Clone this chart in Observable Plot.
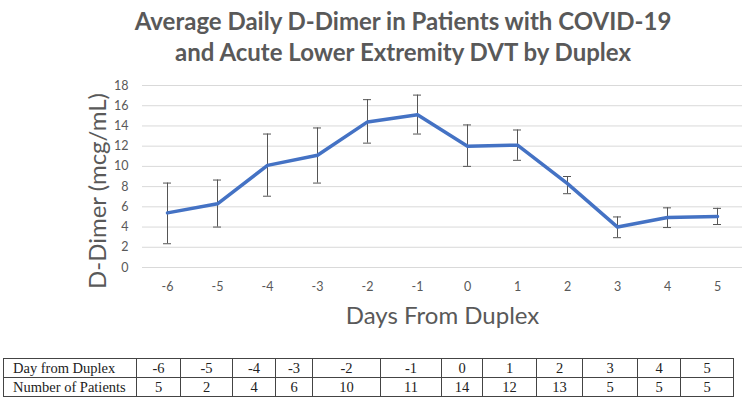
<!DOCTYPE html>
<html>
<head>
<meta charset="utf-8">
<script src="https://cdn.jsdelivr.net/npm/d3@7"></script>
<script src="https://cdn.jsdelivr.net/npm/@observablehq/plot@0.6"></script>
<style>
  html, body { margin: 0; padding: 0; background: #fff; }
  body { width: 746px; height: 401px; overflow: hidden; position: relative; }
  #title { width: 686px; margin-left: 60px; padding-top: 5px; height: 65px; text-align: center;
    font-family: Lato, sans-serif; font-weight: 700; font-size: 24px; line-height: 31px; color: #595959; }
  #chart svg { display: block; }
  #ylabel { position: absolute; left: 97px; top: 191px; transform: translate(-50%, -50%) rotate(-90deg);
    font-family: Lato, sans-serif; font-size: 24px; color: #595959; white-space: nowrap; line-height: 28px; }
  table { position: absolute; left: 3px; top: 358px; border-collapse: collapse; table-layout: fixed;
    font-family: "Liberation Serif", serif; font-size: 14.5px; color: #222; }
  td { border: 1px solid #444; height: 18px; line-height: 18px; padding: 0; text-align: center; }
  td.h { text-align: left; padding-left: 9px; }
</style>
</head>
<body>
<div id="title">Average Daily D-Dimer in Patients with COVID-19<br>and Acute Lower Extremity DVT by Duplex</div>
<div id="chart"></div>
<div id="ylabel">D-Dimer (mcg/mL)</div>
<table id="tbl"></table>
<script>
const days = [-6, -5, -4, -3, -2, -1, 0, 1, 2, 3, 4, 5];
const meanDDimer = [5.4, 6.3, 10.1, 11.1, 14.4, 15.1, 12.0, 12.1, 8.3, 4.0, 4.95, 5.05];
const errHigh = [8.35, 8.65, 13.2, 13.8, 16.6, 17.05, 14.1, 13.6, 9.0, 5.0, 5.9, 5.85];
const errLow = [2.35, 4.0, 7.05, 8.35, 12.3, 13.2, 10.0, 10.6, 7.3, 2.95, 3.95, 4.25];
const yTicks = [0, 2, 4, 6, 8, 10, 12, 14, 16, 18];
const tableRowLabels = ["Day from Duplex", "Number of Patients"];
const patients = [5, 2, 4, 6, 10, 11, 14, 12, 13, 5, 5, 5];
const colWidths = [133, 44, 52, 43, 37, 68, 61, 41, 54, 46, 55, 43, 53];

const data = days.map((d, i) => ({day: d, mean: meanDDimer[i], hi: errHigh[i], lo: errLow[i]}));
const grey = "#595959";

const plot = Plot.plot({
  width: 746,
  height: 275,
  marginLeft: 142,
  marginRight: 4,
  marginTop: 15,
  marginBottom: 78,
  style: {fontFamily: "Lato, sans-serif", fontSize: "12.5px", color: grey, background: "#fff"},
  x: {type: "linear", domain: [-6.5, 5.5], ticks: days, tickFormat: d => String(d)},
  y: {domain: [0, 18], ticks: yTicks},
  marks: [
    Plot.gridY(yTicks, {stroke: "#d9d9d9", strokeOpacity: 1, strokeWidth: 1}),
    Plot.axisY({ticks: yTicks, tickSize: 0, tickPadding: 14, label: null, fill: grey}),
    Plot.axisX({ticks: days, tickSize: 0, tickPadding: 15, label: null, fill: grey, tickFormat: d => String(d)}),
    Plot.ruleX(data, {x: "day", y1: "lo", y2: "hi", stroke: "#555", strokeWidth: 1}),
    Plot.ruleY(data, {y: "hi", x1: "day", x2: "day", insetLeft: -4, insetRight: -4, stroke: "#555", strokeWidth: 1}),
    Plot.ruleY(data, {y: "lo", x1: "day", x2: "day", insetLeft: -4, insetRight: -4, stroke: "#555", strokeWidth: 1}),
    Plot.line(data, {x: "day", y: "mean", stroke: "#4472C4", strokeWidth: 3.5, strokeLinejoin: "round", strokeLinecap: "round"}),
    Plot.text(["Days From Duplex"], {frameAnchor: "bottom", dy: 56, fontSize: 24, fill: grey, fontFamily: "Lato, sans-serif"})
  ]
});
document.getElementById("chart").appendChild(plot);

// table
const tbl = document.getElementById("tbl");
const cg = document.createElement("colgroup");
colWidths.forEach(w => { const c = document.createElement("col"); c.style.width = w + "px"; cg.appendChild(c); });
tbl.appendChild(cg);
[days, patients].forEach((vals, r) => {
  const tr = document.createElement("tr");
  const th = document.createElement("td");
  th.className = "h";
  th.textContent = tableRowLabels[r];
  tr.appendChild(th);
  vals.forEach(v => { const td = document.createElement("td"); td.textContent = String(v); tr.appendChild(td); });
  tbl.appendChild(tr);
});
</script>
</body>
</html>
